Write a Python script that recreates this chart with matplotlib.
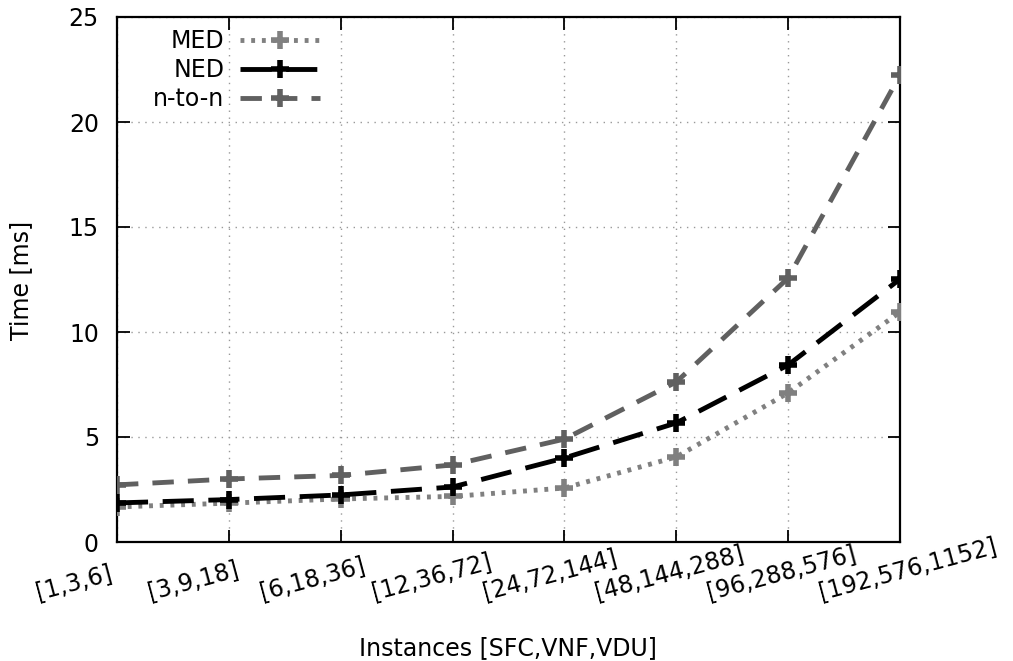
import matplotlib
matplotlib.use("Agg")
import matplotlib.pyplot as plt
from matplotlib.transforms import ScaledTranslation

categories = ["[1,3,6]", "[3,9,18]", "[6,18,36]", "[12,36,72]", "[24,72,144]",
              "[48,144,288]", "[96,288,576]", "[192,576,1152]"]
med = [1.67, 1.85, 2.05, 2.17, 2.57, 4.05, 7.1, 10.95]
ned = [1.86, 2.02, 2.24, 2.62, 4.0, 5.67, 8.43, 12.52]
nton = [2.72, 3.0, 3.17, 3.67, 4.9, 7.62, 12.57, 22.24]
yticks = [0, 5, 10, 15, 20, 25]

FS = 17
plt.rcParams['font.family'] = ['DejaVu Sans']
fig = plt.figure(figsize=(10.13, 6.61), dpi=100)
ax = fig.add_axes([117/1013, 1-542/661, (900-117)/1013, (542-17)/661])

x = list(range(len(categories)))
lw = 3.5
ax.plot(x, med, color='#808080', lw=lw, dashes=(0.8, 1.4), marker='+', ms=13, mew=4,
        label='MED', zorder=3)
ax.plot(x, ned, color='#000000', lw=lw, dashes=(6.4, 3.0), marker='+', ms=13, mew=4,
        label='NED', zorder=3)
ax.plot(x, nton, color='#606060', lw=lw, dashes=(4.4, 2.9), marker='+', ms=13, mew=4,
        label='n-to-n', zorder=3)

ax.set_xlim(0, 7)
ax.set_ylim(0, 25)
ax.set_yticks(yticks)
ax.set_xticks(x)
ax.set_xticklabels([])
ax.tick_params(axis='y', labelsize=FS, pad=13)
ax.tick_params(direction='in', length=9, width=1.3, top=True, right=True)
for s in ax.spines.values():
    s.set_linewidth(1.6)
ax.grid(True, color='#999999', linestyle=(0, (1, 4)), linewidth=1)

# rotated category labels (gnuplot style: left-anchored, shifted left)
off = ScaledTranslation(-0.79, -0.57, fig.dpi_scale_trans)
for i, lab in enumerate(categories):
    ax.text(i, 0, lab, transform=ax.get_xaxis_transform() + off, rotation=15,
            rotation_mode='anchor', ha='left', va='baseline', fontsize=FS)

fig.text(508/1013, 1-655/661, 'Instances [SFC,VNF,VDU]', ha='center', va='baseline', fontsize=FS)
fig.text(9/1013, 1-280/661, 'Time [ms]', rotation=90, ha='left', va='center', fontsize=FS)

leg = ax.legend(loc='upper left', bbox_to_anchor=(153/1013, 1-29/661),
                bbox_transform=fig.transFigure, frameon=False, markerfirst=False,
                fontsize=FS, handlelength=3.4, handletextpad=0.65, labelspacing=0.22,
                borderpad=0, borderaxespad=0)
for t in leg.get_texts():
    t.set_ha('right')
leg._legend_box.align = 'right'

fig.savefig('out.png', dpi=100)
